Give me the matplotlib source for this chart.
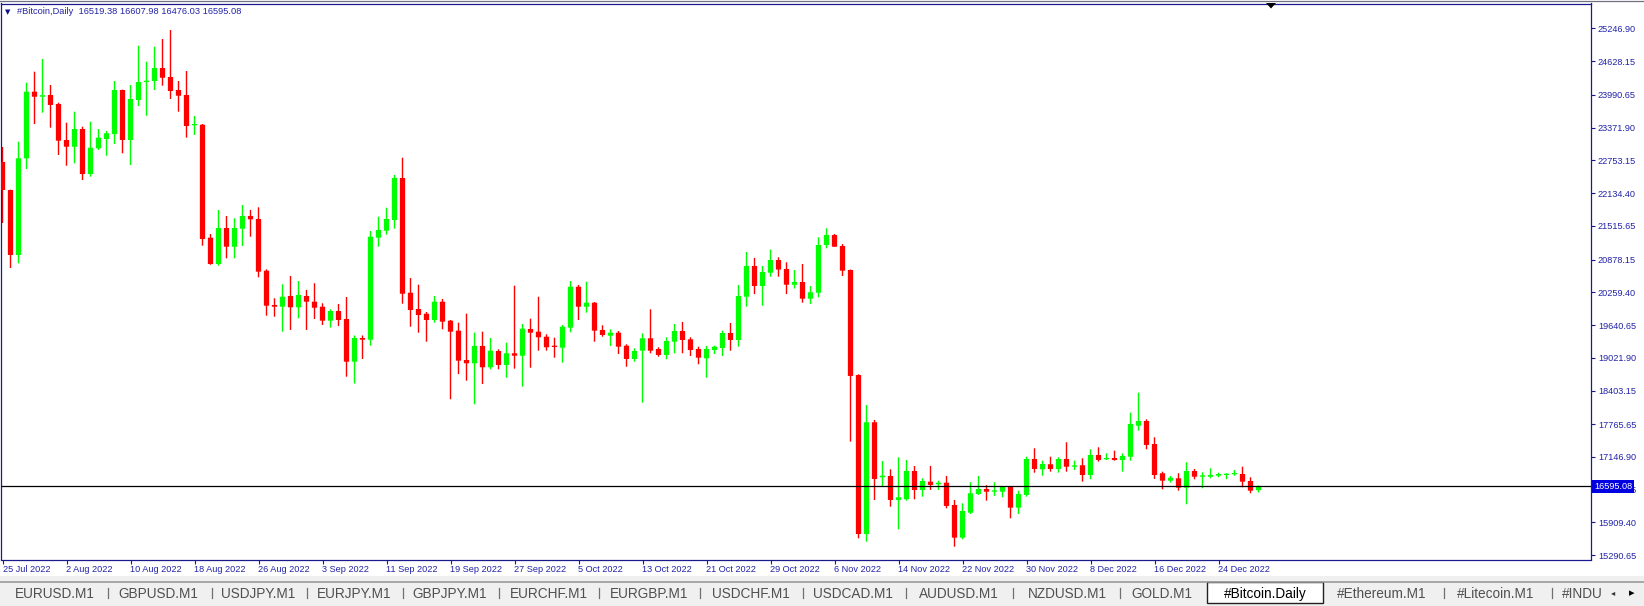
import matplotlib
matplotlib.use("Agg")
import matplotlib.pyplot as plt
import matplotlib.transforms as mtransforms
from matplotlib.patches import Rectangle, Polygon
import numpy as np

# daily candles 25 Jul 2022 .. 29 Dec 2022
opens = [22722, 22193, 20965, 22792, 24051, 23956, 23989, 23818, 23138, 23011,
         23346, 22495, 22981, 23157, 23251, 24083, 23138, 23894, 24234, 24253,
         24499, 24329, 24083, 23989, 23416, 23427, 21292, 20794, 21475, 21121,
         21462, 21702, 21645, 20668, 20020, 19987, 20190, 19976, 20190, 20082,
         19987, 19723, 19906, 19755, 18948, 19396, 19364, 21292, 21424, 21626,
         22420, 20252, 19944, 19855, 19736, 20082, 19723, 19534, 18980, 18918,
         19245, 18842, 19150, 18886, 19107, 19061, 19566, 19515, 19420, 19245,
         19213, 19591, 20365, 19987, 20063, 19547, 19439, 19496, 19250, 18999,
         19156, 19390, 19188, 19075, 19326, 19528, 19371, 19188, 19012, 19169,
         19207, 19490, 19358, 20176, 20757, 20379, 20630, 20870, 20700, 20403,
         20454, 20139, 20252, 21154, 21342, 21135, 20681, 18696, 15691, 17803,
         16763, 16788, 16334, 16347, 16882, 16523, 16680, 16631, 16661, 16240,
         15622, 16094, 16447, 16542, 16491, 16491, 16585, 16189, 16429, 17109,
         16914, 17009, 16920, 17109, 16963, 16990, 16806, 17185, 17103, 17128,
         17090, 17152, 17738, 17827, 17392, 16839, 16699, 16744, 16567, 16882,
         16774, 16774, 16793, 16806, 16820, 16825, 16693, 16519.38]
highs = [23006, 22200, 23106, 24221, 24429, 24669, 24178, 23843, 23465, 23673,
         23389, 23484, 23346, 23308, 24253, 24090, 24178, 24920, 24618, 24901,
         25047, 25217, 24253, 24442, 23592, 23440, 21361, 21815, 21702, 21658,
         21910, 21815, 21866, 20694, 20146, 20411, 20568, 20473, 20303, 20430,
         20052, 19938, 20038, 20171, 19443, 19443, 21418, 21688, 21858, 22477,
         22803, 20530, 20403, 19887, 20190, 20133, 19736, 19685, 19855, 19496,
         19515, 19396, 19182, 19307, 20384, 19660, 19761, 20176, 19466, 19401,
         19642, 20473, 20398, 20460, 20075, 19636, 19560, 19528, 19277, 19201,
         19485, 19938, 19220, 19409, 19660, 19698, 19409, 19231, 19245, 19250,
         19534, 19679, 20398, 21021, 20908, 20757, 21068, 20921, 20827, 20681,
         20794, 20379, 21299, 21469, 21361, 21172, 20690, 18710, 18130, 17846,
         17071, 16914, 17141, 17090, 16977, 16744, 16977, 16699, 16788, 16334,
         16272, 16669, 16788, 16612, 16669, 16599, 16595, 16510, 17152, 17311,
         17077, 17152, 17141, 17425, 17077, 17122, 17292, 17330, 17217, 17266,
         17217, 17984, 18362, 17859, 17519, 16869, 16788, 16839, 17047, 16920,
         16857, 16933, 16850, 16839, 16901, 16963, 16763, 16607.98]
lows = [21569, 20719, 20808, 22590, 23440, 23654, 23371, 22855, 22652, 22698,
        22382, 22444, 22949, 22841, 23062, 22887, 22665, 23781, 23597, 24083,
        24164, 23913, 23673, 23182, 23233, 21140, 20780, 20762, 20902, 20902,
        21135, 21310, 20543, 19817, 19798, 19515, 19547, 19768, 19547, 19755,
        19642, 19591, 19623, 18664, 18536, 18999, 19250, 21121, 21348, 21462,
        20044, 19609, 19496, 19326, 19685, 19560, 18237, 18715, 18589, 18143,
        18526, 18804, 18804, 18646, 18816, 18475, 18834, 19156, 19156, 19024,
        18929, 19504, 19736, 19874, 19326, 19420, 19245, 19093, 18853, 18948,
        18173, 19107, 19042, 18993, 19107, 19107, 19056, 18899, 18646, 19093,
        19056, 19156, 19231, 19987, 20227, 20006, 20554, 20554, 20227, 20331,
        20063, 20038, 20165, 21091, 21121, 20568, 17436, 15610, 15546, 16334,
        16585, 16207, 15780, 16321, 16347, 16396, 16523, 16523, 16177, 15451,
        15591, 16069, 16429, 16321, 16410, 16385, 15988, 16069, 16396, 16850,
        16793, 16869, 16850, 16869, 16901, 16680, 16725, 17058, 17090, 17077,
        16869, 17077, 17644, 17292, 16731, 16536, 16661, 16510, 16253, 16725,
        16555, 16744, 16763, 16725, 16793, 16574, 16461, 16476.03]
closes = [22193, 20965, 22792, 24051, 23956, 23985, 23800, 23125, 23011, 23346,
          22495, 22992, 23182, 23265, 24083, 23138, 23913, 24234, 24253, 24499,
          24315, 24064, 23975, 23403, 23425, 21267, 20794, 21475, 21121, 21475,
          21702, 21639, 20649, 20006, 19987, 20176, 19976, 20209, 20082, 19968,
          19723, 19906, 19736, 18948, 19396, 19364, 21310, 21437, 21645, 22420,
          20233, 19925, 19830, 19736, 20082, 19704, 19515, 18967, 18918, 19245,
          18842, 19156, 18886, 19107, 19061, 19572, 19496, 19409, 19220, 19226,
          19609, 20365, 19987, 20063, 19534, 19453, 19496, 19231, 18999, 19150,
          19390, 19156, 19075, 19339, 19528, 19358, 19169, 19024, 19188, 19231,
          19490, 19358, 20190, 20757, 20379, 20643, 20870, 20690, 20403, 20454,
          20139, 20260, 21154, 21342, 21121, 20668, 18678, 15691, 17803, 16731,
          16793, 16334, 16385, 16882, 16523, 16693, 16618, 16661, 16221, 15622,
          16126, 16461, 16542, 16491, 16504, 16585, 16189, 16447, 17109, 16920,
          17014, 16920, 17109, 16963, 16982, 16806, 17185, 17090, 17128, 17090,
          17166, 17770, 17827, 17374, 16806, 16699, 16755, 16567, 16882, 16774,
          16788, 16806, 16825, 16825, 16831, 16680, 16510, 16595.08]

date_labels = ['25 Jul 2022', '2 Aug 2022', '10 Aug 2022', '18 Aug 2022', '26 Aug 2022',
               '3 Sep 2022', '11 Sep 2022', '19 Sep 2022', '27 Sep 2022', '5 Oct 2022',
               '13 Oct 2022', '21 Oct 2022', '29 Oct 2022', '6 Nov 2022', '14 Nov 2022',
               '22 Nov 2022', '30 Nov 2022', '8 Dec 2022', '16 Dec 2022', '24 Dec 2022']
price_ticks = [25246.90, 24628.15, 23990.65, 23371.90, 22753.15, 22134.40, 21515.65,
               20878.15, 20259.40, 19640.65, 19021.90, 18403.15, 17765.65, 17146.90,
               16528.15, 15909.40, 15290.65]
bid = 16595.08
title = '#Bitcoin,Daily  16519.38 16607.98 16476.03 16595.08'
tabs = ['EURUSD.M1', 'GBPUSD.M1', 'USDJPY.M1', 'EURJPY.M1', 'GBPJPY.M1', 'EURCHF.M1',
        'EURGBP.M1', 'USDCHF.M1', 'USDCAD.M1', 'AUDUSD.M1', 'NZDUSD.M1', 'GOLD.M1',
        '#Bitcoin.Daily', '#Ethereum.M1', '#Litecoin.M1']

W, H = 1644, 606
NAVY = '#1a1a8c'
LBL = '#2323a8'
plt.rcParams['font.family'] = ['Liberation Sans', 'DejaVu Sans']

def fx(px):
    return px / W

def fy(py):
    return 1 - py / H

fig = plt.figure(figsize=(W / 100, H / 100), dpi=100)
fig.patch.set_facecolor('white')

# chart window in pixels
left, right, top, bottom = 1.0, 1591.0, 3.5, 559.5
ax = fig.add_axes([fx(left), fy(bottom), fx(right - left), (bottom - top) / H])

n = len(opens)
x = np.arange(n)
o = np.array(opens, float)
c = np.array(closes, float)
hi = np.array(highs, float)
lo = np.array(lows, float)

ymin, ymax = 15209.0, 25718.0
ax.set_ylim(ymin, ymax)
ax.set_xlim((left - 2.5) / 8, (right - 2.5) / 8)
px = (ymax - ymin) / (bottom - top)

up = c >= o
cols = np.where(up, '#00ff00', '#ff0000')
ax.vlines(x, lo, hi, colors=cols, linewidth=1.0, snap=False, zorder=2)
body_h = np.maximum(np.abs(c - o), 1.3 * px)
ax.bar(x, body_h, bottom=np.minimum(o, c), width=0.66, color=cols,
       linewidth=0, snap=False, zorder=3)

ax.axhline(bid, color='black', linewidth=0.9, zorder=4)

for s in ax.spines.values():
    s.set_color(NAVY)
    s.set_linewidth(0.9)

ax.yaxis.tick_right()
ax.set_yticks(price_ticks)
ax.set_yticklabels(['%.2f' % v for v in price_ticks])
ax.tick_params(axis='y', length=3, width=0.8, color=NAVY, labelcolor=LBL,
               labelsize=6.6, pad=2)

ax.set_xticks(x[::8][:len(date_labels)])
ax.set_xticklabels(date_labels)
ax.tick_params(axis='x', length=3, width=0.8, color=NAVY, labelcolor=LBL,
               labelsize=6.6, pad=0.8)
for t in ax.get_xticklabels():
    t.set_ha('left')

# current price box on the price scale (covers the tick label underneath, as in MT4)
tr = mtransforms.offset_copy(mtransforms.blended_transform_factory(ax.transAxes, ax.transData),
                             fig=fig, x=3, y=0, units='dots')
ax.text(1.0, bid, '%.2f' % bid, transform=tr, ha='left', va='center', color='white',
        fontsize=6.6, clip_on=False, zorder=10,
        bbox=dict(boxstyle='square,pad=0.22', fc='#0000e0', ec='none'))

# header line
fig.text(fx(8), fy(12), '▼', fontsize=5, color='#10108a', ha='center', va='center',
         family='DejaVu Sans')
fig.text(fx(17), fy(12), title, fontsize=6.7, color=LBL, ha='left', va='center')

# window top border and chart-shift marker
fig.add_artist(plt.Line2D([0, 1], [fy(0.5), fy(0.5)], color='#707080', linewidth=0.9))
fig.add_artist(Polygon([[fx(1266), fy(3)], [fx(1276), fy(3)], [fx(1271), fy(8.5)]],
                       closed=True, facecolor='black', edgecolor='none'))

# symbol tab bar
fig.add_artist(Rectangle((0, 0), 1, fy(576), transform=fig.transFigure,
                         facecolor='#f0f0f0', edgecolor='none'))
fig.add_artist(plt.Line2D([0, 1], [fy(581.5), fy(581.5)], color='#9a9a9a', linewidth=1.2))
tab_x = [54.5, 158.5, 258.5, 354.5, 450, 548.5, 649, 750.5, 853, 959, 1067, 1162,
         1265, 1382, 1496]
sep_x = [108, 212, 307, 403, 499, 599, 700, 803, 906, 1013, 1120, 1444, 1552]
fig.add_artist(Rectangle((fx(1207), fy(603)), fx(116), (603 - 582) / H,
                         transform=fig.transFigure, facecolor='white',
                         edgecolor='#222222', linewidth=1.0))
for name, tx in zip(tabs, tab_x):
    active = name.startswith('#Bitcoin')
    fig.text(fx(tx), fy(594), name, fontsize=9.8, ha='center', va='center',
             color='black' if active else '#505050')
fig.text(fx(1562), fy(594), '#INDU', fontsize=9.8, ha='left', va='center', color='#505050')
for sx in sep_x:
    fig.add_artist(plt.Line2D([fx(sx), fx(sx)], [fy(588), fy(598)], color='#707070',
                              linewidth=0.9))
fig.text(fx(1613), fy(593), '◂', fontsize=6, ha='center', va='center', color='#333333',
         family='DejaVu Sans')
fig.text(fx(1632), fy(593), '▸', fontsize=8, ha='center', va='center', color='black',
         family='DejaVu Sans')

fig.savefig('out.png', dpi=100)
